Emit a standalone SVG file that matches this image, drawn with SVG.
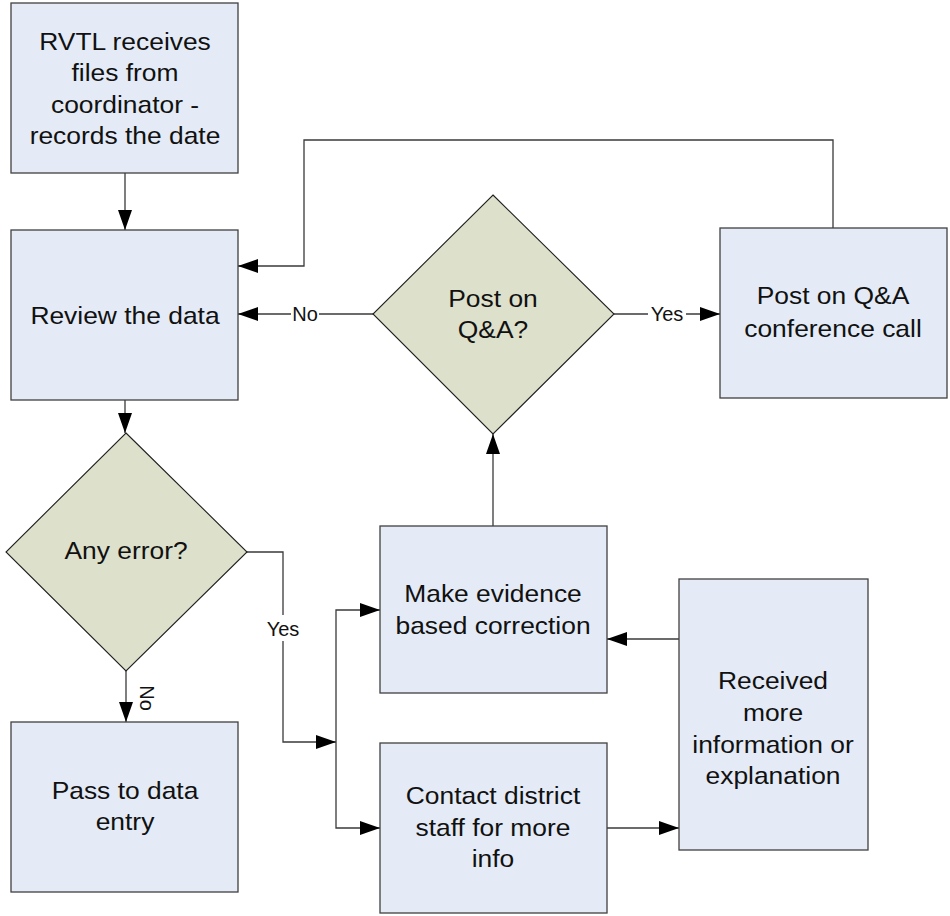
<svg xmlns="http://www.w3.org/2000/svg" width="950" height="916" viewBox="0 0 950 916">
<style>
.box{fill:#e4ebf6;stroke:#404040;stroke-width:1.3}
.dia{fill:#dde0cb;stroke:#202020;stroke-width:1.1}
.t{font-family:"Liberation Sans",Arial,sans-serif;font-size:24px;fill:#111;text-anchor:middle}
.lbl{font-family:"Liberation Sans",Arial,sans-serif;font-size:20px;fill:#111;text-anchor:middle}
.c{fill:none;stroke:#3a3a3a;stroke-width:1.3}
.bg{fill:#fff}
</style>
<defs>
<marker id="ah" markerUnits="userSpaceOnUse" markerWidth="20" markerHeight="14" refX="20" refY="7" orient="auto" viewBox="0 0 20 14">
<path d="M0,0 L20,7 L0,14 z" fill="#000"/>
</marker>
</defs>
<rect width="950" height="916" fill="#fff"/>
<g id="connectors">
<path class="c" d="M125,173 V230" marker-end="url(#ah)"/>
<path class="c" d="M125,400 V433" marker-end="url(#ah)"/>
<path class="c" d="M126,671 V722" marker-end="url(#ah)"/>
<path class="c" d="M247,552 H283 V742 H336" marker-end="url(#ah)"/>
<path class="c" d="M336,742 V610 H380" marker-end="url(#ah)"/>
<path class="c" d="M336,742 V828 H380" marker-end="url(#ah)"/>
<path class="c" d="M679,639 H607" marker-end="url(#ah)"/>
<path class="c" d="M607,828 H679" marker-end="url(#ah)"/>
<path class="c" d="M493,526 V434" marker-end="url(#ah)"/>
<path class="c" d="M373,314 H238" marker-end="url(#ah)"/>
<path class="c" d="M614,314 H720" marker-end="url(#ah)"/>
<path class="c" d="M833,228 V140 H304 V266 H238" marker-end="url(#ah)"/>
<rect class="bg" x="291" y="302" width="28" height="24"/>
<text class="lbl" x="305" y="321">No</text>
<rect class="bg" x="648" y="302" width="38" height="24"/>
<text class="lbl" x="667" y="321">Yes</text>
<rect class="bg" x="264" y="615" width="38" height="26"/>
<text class="lbl" x="283" y="636">Yes</text>
<g transform="translate(147 698) rotate(90)">
<text class="lbl" x="0" y="7">No</text>
</g>
</g>
<g id="n1">
<rect class="box" x="11" y="3" width="227" height="170"/>
<g transform="translate(125 0) scale(1.1 1)">
<text class="t"><tspan x="0" y="50">RVTL receives</tspan><tspan x="0" y="81">files from</tspan><tspan x="0" y="113">coordinator  -</tspan><tspan x="0" y="144">records the date</tspan></text>
</g>
</g>
<g id="n2">
<rect class="box" x="11" y="230" width="227" height="170"/>
<g transform="translate(125 0) scale(1.1 1)">
<text class="t" x="0" y="324">Review the data</text>
</g>
</g>
<g id="n3">
<polygon class="dia" points="126,433 247,552 126,671 6,552"/>
<g transform="translate(126 0) scale(1.1 1)">
<text class="t" x="0" y="559">Any error?</text>
</g>
</g>
<g id="n4">
<rect class="box" x="11" y="722" width="227" height="170"/>
<g transform="translate(125 0) scale(1.1 1)">
<text class="t"><tspan x="0" y="799">Pass to data</tspan><tspan x="0" y="830">entry</tspan></text>
</g>
</g>
<g id="n5">
<polygon class="dia" points="493,195 614,314 493,434 373,314"/>
<g transform="translate(493 0) scale(1.1 1)">
<text class="t"><tspan x="0" y="307">Post on</tspan><tspan x="0" y="338">Q&amp;A?</tspan></text>
</g>
</g>
<g id="n6">
<rect class="box" x="720" y="228" width="227" height="170"/>
<g transform="translate(833 0) scale(1.1 1)">
<text class="t"><tspan x="0" y="304">Post on Q&amp;A</tspan><tspan x="0" y="337">conference call</tspan></text>
</g>
</g>
<g id="n7">
<rect class="box" x="380" y="526" width="227" height="167"/>
<g transform="translate(493 0) scale(1.1 1)">
<text class="t"><tspan x="0" y="602">Make evidence</tspan><tspan x="0" y="634">based correction</tspan></text>
</g>
</g>
<g id="n8">
<rect class="box" x="380" y="743" width="227" height="170"/>
<g transform="translate(493 0) scale(1.1 1)">
<text class="t"><tspan x="0" y="804">Contact district</tspan><tspan x="0" y="836">staff for more</tspan><tspan x="0" y="867">info</tspan></text>
</g>
</g>
<g id="n9">
<rect class="box" x="679" y="579" width="189" height="271"/>
<g transform="translate(773 0) scale(1.1 1)">
<text class="t"><tspan x="0" y="689">Received</tspan><tspan x="0" y="721">more</tspan><tspan x="0" y="753">information or</tspan><tspan x="0" y="784">explanation</tspan></text>
</g>
</g>
</svg>
